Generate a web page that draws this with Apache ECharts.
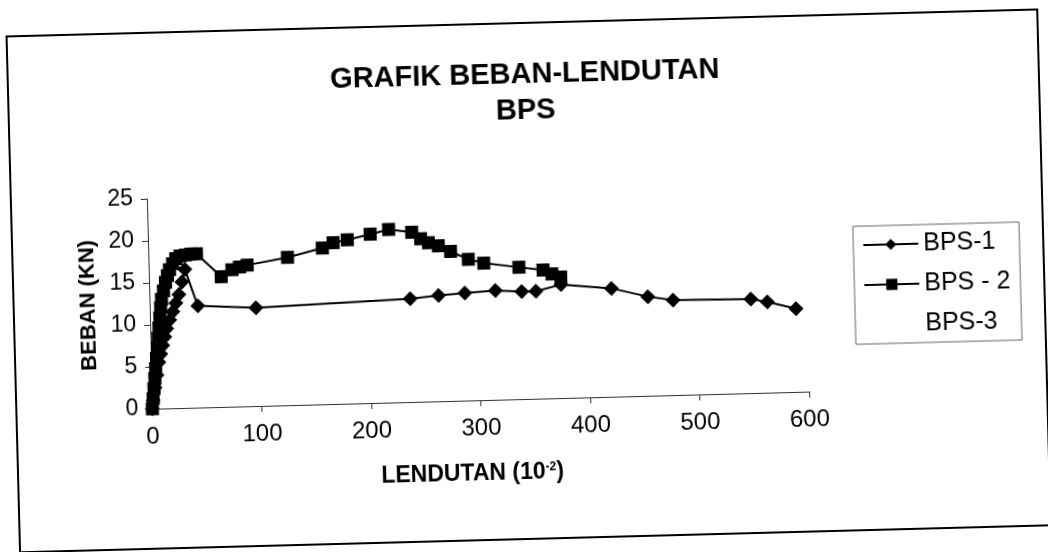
<!DOCTYPE html>
<html>
<head>
<meta charset="utf-8">
<script src="https://cdn.jsdelivr.net/npm/echarts@6/dist/echarts.min.js"></script>
<style>
  html, body { margin: 0; padding: 0; background: #ffffff; overflow: hidden; }
  #chart {
    width: 1048px; height: 552px;
    transform: rotate(-1.5deg);
    transform-origin: 524px 276px;
  }
</style>
</head>
<body>
<div id="chart"></div>
<script>
// Lendutan (x 10^-2) and beban (kN) readings for each beam
const lendutanBPS1 = [0, 1, 3, 5, 7, 9, 11, 13, 15, 18, 21, 24, 27, 30, 33, 44, 97,
  238, 264, 288, 316, 340, 353, 376, 422, 455, 478, 549, 564, 590];
const bebanBPS1 = [0, 1, 2.5, 4, 5.5, 6.5, 7.5, 8.5, 9.5, 10.5, 11.5, 12.5, 13.5, 15, 16.5, 12.1, 11.7,
  12.3, 12.6, 12.8, 13.0, 12.8, 12.8, 13.5, 12.9, 11.8, 11.3, 11.2, 10.8, 9.9];

const lendutanBPS2 = [0, 1, 2, 3, 4, 5, 6, 7, 8, 9, 10, 11, 13, 15, 17, 19, 22, 25, 29, 34, 39, 44,
  66, 76, 83, 90, 127, 159, 169, 182, 203, 220, 241, 249, 256, 265, 276, 292, 306, 338, 360, 368, 376];
const bebanBPS2 = [0, 1.2, 2.4, 3.6, 4.8, 6, 7.2, 8.4, 9.6, 10.8, 12, 13, 14, 15, 15.8, 16.5, 17.2, 17.8, 18.1, 18.2, 18.3, 18.3,
  15.5, 16.3, 16.6, 16.8, 17.6, 18.6, 19.2, 19.5, 20.1, 20.6, 20.2, 19.4, 18.9, 18.5, 17.8, 16.8, 16.3, 15.7, 15.3, 14.8, 14.4];

// BPS-3 has no recorded readings; it only appears in the legend
const lendutanBPS3 = [];
const bebanBPS3 = [];

const seriesNames = ['BPS-1', 'BPS - 2', 'BPS-3'];
const xTicks = { min: 0, max: 600, step: 100 };
const yTicks = { min: 0, max: 25, step: 5 };

const pairs = (xs, ys) => xs.map((x, i) => [x, ys[i]]);
const FONT = 'Liberation Sans, Arial, sans-serif';

const chart = echarts.init(document.getElementById('chart'), null, { renderer: 'canvas' });

chart.setOption({
  backgroundColor: '#ffffff',
  animation: false,
  title: {
    text: 'GRAFIK BEBAN-LENDUTAN\nBPS',
    left: 525,
    top: 52,
    textAlign: 'center',
    textStyle: { fontFamily: FONT, fontSize: 29, fontWeight: 'bold', color: '#000', lineHeight: 36 }
  },
  graphic: [{
    type: 'rect',
    shape: { x: 13, y: 23, width: 1031, height: 516 },
    style: { fill: 'none', stroke: '#000', lineWidth: 2 },
    silent: true
  }],
  legend: {
    orient: 'vertical',
    left: 854,
    top: 235,
    padding: [5, 10, 5, 9],
    itemGap: 12,
    itemWidth: 55,
    itemHeight: 14,
    selectedMode: false,
    borderColor: '#666',
    borderWidth: 1,
    textStyle: { fontFamily: FONT, fontSize: 25, color: '#000', lineHeight: 28 },
    data: seriesNames
  },
  grid: { left: 149, right: 242, top: 189, bottom: 153, containLabel: false },
  xAxis: {
    type: 'value',
    min: xTicks.min, max: xTicks.max, interval: xTicks.step,
    name: 'LENDUTAN (10{s|-2})',
    nameLocation: 'middle',
    nameGap: 62,
    nameTextStyle: {
      fontFamily: FONT, fontSize: 23, fontWeight: 'bold', color: '#000',
      padding: [0, 20, 0, 0],
      rich: { s: { fontFamily: FONT, fontSize: 12, fontWeight: 'bold', color: '#000', padding: [0, 0, 10, 0] } }
    },
    axisLine: { show: true, lineStyle: { color: '#333', width: 1 } },
    axisTick: { show: true, inside: false, length: 6, lineStyle: { color: '#333' } },
    axisLabel: { fontFamily: FONT, fontSize: 24, color: '#000', margin: 16 },
    splitLine: { show: false }
  },
  yAxis: {
    type: 'value',
    min: yTicks.min, max: yTicks.max, interval: yTicks.step,
    name: 'BEBAN (KN)',
    nameLocation: 'middle',
    nameRotate: 90,
    nameGap: 35,
    nameTextStyle: { fontFamily: FONT, fontSize: 22, fontWeight: 'bold', color: '#000' },
    axisLine: { show: true, lineStyle: { color: '#333', width: 1 } },
    axisTick: { show: true, inside: false, length: 6, lineStyle: { color: '#333' } },
    axisLabel: { fontFamily: FONT, fontSize: 23, color: '#000', margin: 14 },
    splitLine: { show: false }
  },
  series: [
    {
      name: seriesNames[0], type: 'line',
      data: pairs(lendutanBPS1, bebanBPS1),
      symbol: 'diamond', symbolSize: 15,
      color: '#000',
      lineStyle: { color: '#000', width: 2 },
      itemStyle: { color: '#000' }
    },
    {
      name: seriesNames[1], type: 'line',
      data: pairs(lendutanBPS2, bebanBPS2),
      symbol: 'rect', symbolSize: 13,
      color: '#000',
      lineStyle: { color: '#000', width: 2 },
      itemStyle: { color: '#000' }
    },
    {
      name: seriesNames[2], type: 'line',
      data: pairs(lendutanBPS3, bebanBPS3),
      symbol: 'none',
      color: 'rgba(0,0,0,0)',
      lineStyle: { color: 'rgba(0,0,0,0)', width: 0 },
      itemStyle: { color: 'rgba(0,0,0,0)' }
    }
  ]
});
</script>
</body>
</html>
